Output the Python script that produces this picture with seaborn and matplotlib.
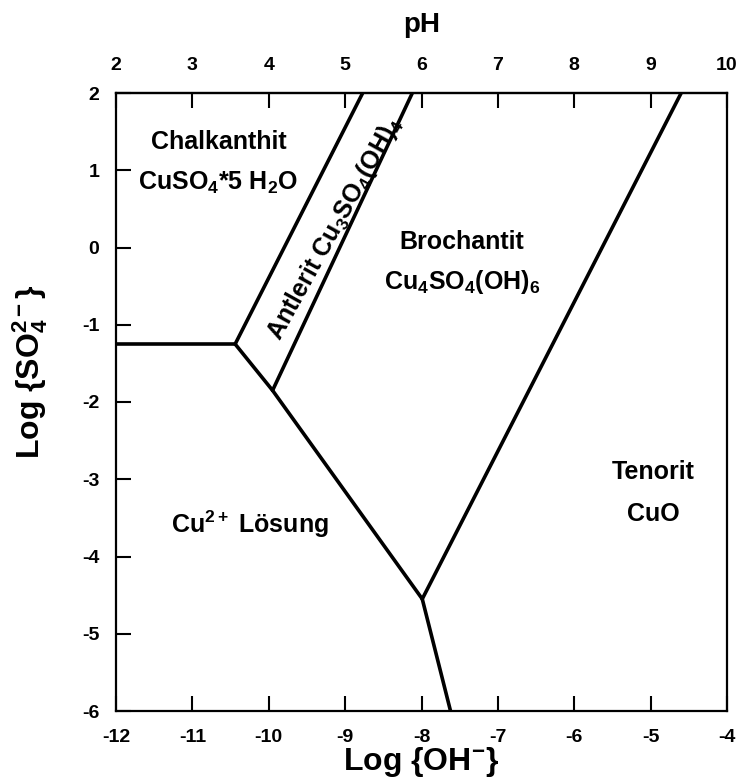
import matplotlib
matplotlib.use("Agg")
import matplotlib.pyplot as plt
import seaborn as sns
import pandas as pd

sns.set_theme(style="ticks")
plt.rcParams['font.family'] = ['Liberation Sans', 'DejaVu Sans']
plt.rcParams['font.weight'] = 'bold'
plt.rcParams['text.color'] = 'black'
plt.rcParams['axes.labelcolor'] = 'black'
plt.rcParams['xtick.color'] = 'black'
plt.rcParams['ytick.color'] = 'black'
plt.rcParams['mathtext.fontset'] = 'custom'
plt.rcParams['mathtext.rm'] = 'Liberation Sans:bold'
plt.rcParams['mathtext.it'] = 'Liberation Sans:bold'
plt.rcParams['mathtext.bf'] = 'Liberation Sans:bold'
plt.rcParams['mathtext.sf'] = 'Liberation Sans:bold'
plt.rcParams['mathtext.default'] = 'rm'

# ---- data: phase boundaries (log OH-, log SO4 2-) ----
chalk_cu2_x = [-12.0, -10.44]
chalk_cu2_y = [-1.25, -1.25]
chalk_antl_x = [-10.44, -8.77]
chalk_antl_y = [-1.25, 2.0]
cu2_antl_x = [-10.44, -9.95]
cu2_antl_y = [-1.25, -1.85]
antl_broch_x = [-9.95, -8.12]
antl_broch_y = [-1.85, 2.0]
cu2_broch_x = [-9.95, -7.99]
cu2_broch_y = [-1.85, -4.55]
broch_ten_x = [-7.99, -4.60]
broch_ten_y = [-4.55, 2.0]
cu2_ten_x = [-7.99, -7.62]
cu2_ten_y = [-4.55, -6.0]

x_ticks = [-12, -11, -10, -9, -8, -7, -6, -5, -4]
y_ticks = [2, 1, 0, -1, -2, -3, -4, -5, -6]
ph_ticks = [2, 3, 4, 5, 6, 7, 8, 9, 10]

segments = [
    (chalk_cu2_x, chalk_cu2_y), (chalk_antl_x, chalk_antl_y),
    (cu2_antl_x, cu2_antl_y), (antl_broch_x, antl_broch_y),
    (cu2_broch_x, cu2_broch_y), (broch_ten_x, broch_ten_y),
    (cu2_ten_x, cu2_ten_y),
]

fig = plt.figure(figsize=(7.56, 7.81), dpi=100)
ax = fig.add_axes([116/756, 70/781, 611/756, 618/781])

for i, (xs, ys) in enumerate(segments):
    df = pd.DataFrame({"logOH": xs, "logSO4": ys})
    sns.lineplot(data=df, x="logOH", y="logSO4", sort=False, color="black",
                 linewidth=2.6, ax=ax, estimator=None, solid_capstyle='round')

ax.set_xlim(-12, -4)
ax.set_ylim(-6, 2)
ax.set_xticks(x_ticks)
ax.set_yticks(y_ticks)
ax.set_xticklabels([str(t) for t in x_ticks])
ax.set_yticklabels([str(t) for t in y_ticks])
ax.tick_params(direction='in', length=11, width=1.5, labelsize=14, pad=12,
               color='black', labelcolor='black')
ax.tick_params(axis='x', pad=13)
for s in ax.spines.values():
    s.set_linewidth(1.6)
    s.set_color('black')

ax.set_xlabel("Log {OH$^{-}$}", fontsize=23, fontweight='bold', color='black')
ax.xaxis.label.set_va('center')
ax.xaxis.set_label_coords(0.5, -0.083)
ax.set_ylabel("Log {SO$_4^{2-}$}", fontsize=23, fontweight='bold', color='black')
ax.yaxis.label.set_va('center')
ax.yaxis.set_label_coords(-0.141, 0.55)

top = ax.secondary_xaxis('top', functions=(lambda v: v + 14, lambda v: v - 14))
top.set_xticks(ph_ticks)
top.set_xticklabels([str(t) for t in ph_ticks])
top.tick_params(direction='in', length=11, width=1.5, labelsize=14, pad=14,
                color='black', labelcolor='black')
top.set_xlabel("pH", fontsize=20, fontweight='bold', labelpad=18, color='black')
top.spines['top'].set_linewidth(1.6)

fs = 18
kw = dict(fontsize=fs, fontweight='bold', ha='center', va='center', color='black')
ax.text(-10.66, 1.37, "Chalkanthit", **kw)
ax.text(-10.66, 0.84, "CuSO$_4$*5 H$_2$O", **kw)
ax.text(-7.47, 0.07, "Brochantit", **kw)
ax.text(-7.47, -0.45, "Cu$_4$SO$_4$(OH)$_6$", **kw)
ax.text(-4.96, -2.90, "Tenorit", **kw)
ax.text(-4.96, -3.45, "CuO", **kw)
ax.text(-10.25, -3.58, "Cu$^{2+}$ Lösung", **kw)
ax.text(-9.14, 0.25, "Antlerit Cu$_3$SO$_4$(OH)$_4$", rotation=61,
        rotation_mode='anchor', **kw)

fig.savefig("out.png", dpi=100)
